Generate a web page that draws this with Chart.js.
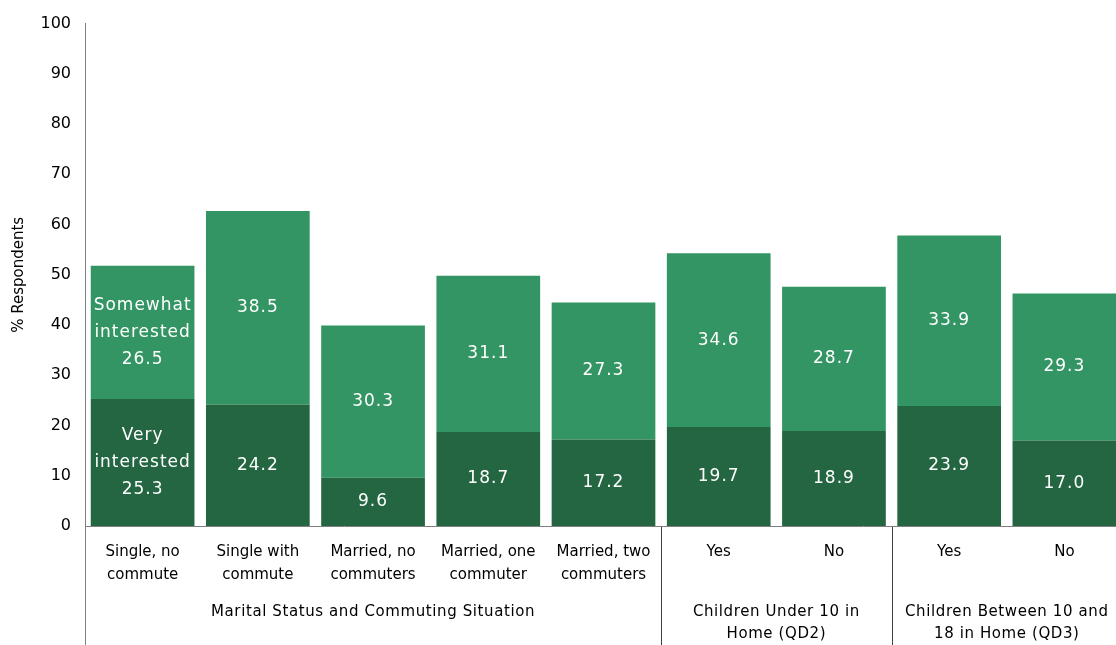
<!DOCTYPE html>
<html>
<head>
<meta charset="utf-8">
<script src="https://cdn.jsdelivr.net/npm/chart.js@4/dist/chart.umd.min.js"></script>
<style>
  html, body { margin: 0; padding: 0; background: #ffffff; overflow: hidden; }
  #wrap { width: 1122px; height: 645px; }
</style>
</head>
<body>
<div id="wrap"><canvas id="c" width="1122" height="645"></canvas></div>
<script>
// Category labels (two lines each)
const categories = [
  ['Single, no', 'commute'],
  ['Single with', 'commute'],
  ['Married, no', 'commuters'],
  ['Married, one', 'commuter'],
  ['Married, two', 'commuters'],
  ['Yes'],
  ['No'],
  ['Yes'],
  ['No']
];

// Category groups: label lines and number of categories in each group
const groupLabels = [
  ['Marital Status and Commuting Situation'],
  ['Children Under 10 in', 'Home (QD2)'],
  ['Children Between 10 and', '18 in Home (QD3)']
];
const groupSizes = [5, 2, 2];

// Series values (% respondents)
const veryInterested = [25.3, 24.2, 9.6, 18.7, 17.2, 19.7, 18.9, 23.9, 17.0];
const somewhatInterested = [26.5, 38.5, 30.3, 31.1, 27.3, 34.6, 28.7, 33.9, 29.3];

const seriesNames = [['Very', 'interested'], ['Somewhat', 'interested']];

const yTicks = [0, 10, 20, 30, 40, 50, 60, 70, 80, 90, 100];

const FONT = '"DejaVu Sans", "Noto Sans", sans-serif';
const AXIS_GRAY = '#7f7f7f';

// Values written inside each bar segment; the first column also carries the series name
const segmentLabels = {
  id: 'segmentLabels',
  afterDatasetsDraw(chart) {
    const ctx = chart.ctx;
    ctx.save();
    ctx.fillStyle = '#ffffff';
    ctx.font = '17px ' + FONT;
    ctx.letterSpacing = '1px';
    ctx.textAlign = 'center';
    ctx.textBaseline = 'middle';
    const lh = 27;
    chart.data.datasets.forEach((ds, di) => {
      const meta = chart.getDatasetMeta(di);
      meta.data.forEach((bar, i) => {
        const v = ds.data[i];
        const lines = i === 0 ? [...seriesNames[di], v.toFixed(1)] : [v.toFixed(1)];
        const cy = (bar.y + bar.base) / 2;
        const start = cy - (lines.length - 1) * lh / 2;
        lines.forEach((t, k) => ctx.fillText(t, bar.x, start + k * lh));
      });
    });
    ctx.restore();
  }
};

// Group separators below the axis and the group captions
const groupAxis = {
  id: 'groupAxis',
  afterDraw(chart) {
    const ctx = chart.ctx;
    const xs = chart.scales.x;
    const area = chart.chartArea;
    const H = chart.height;
    const half = (xs.getPixelForValue(1) - xs.getPixelForValue(0)) / 2;
    ctx.save();
    ctx.lineWidth = 1;
    // left axis continues down through the label area
    ctx.strokeStyle = AXIS_GRAY;
    ctx.beginPath();
    ctx.moveTo(Math.round(area.left) + 0.5, area.bottom);
    ctx.lineTo(Math.round(area.left) + 0.5, H);
    ctx.stroke();
    ctx.strokeStyle = '#404040';
    let idx = 0;
    ctx.fillStyle = '#000000';
    ctx.font = '15px ' + FONT;
    ctx.letterSpacing = '0.6px';
    ctx.textAlign = 'center';
    ctx.textBaseline = 'middle';
    groupSizes.forEach((n, g) => {
      const left = xs.getPixelForValue(idx) - half;
      const right = xs.getPixelForValue(idx + n - 1) + half;
      if (g > 0) {
        const x = Math.round(left) + 0.5;
        ctx.beginPath();
        ctx.moveTo(x, area.bottom + 1);
        ctx.lineTo(x, H);
        ctx.stroke();
      }
      const cx = (left + right) / 2;
      groupLabels[g].forEach((t, k) => ctx.fillText(t, cx, 612 + k * 22));
      idx += n;
    });
    ctx.restore();
  }
};

new Chart(document.getElementById('c'), {
  type: 'bar',
  data: {
    labels: categories,
    datasets: [
      { label: 'Very interested', data: veryInterested, backgroundColor: '#236641', borderWidth: 0 },
      { label: 'Somewhat interested', data: somewhatInterested, backgroundColor: '#329563', borderWidth: 0 }
    ]
  },
  options: {
    responsive: false,
    animation: false,
    devicePixelRatio: 1,
    layout: { padding: { top: 19, left: 0, right: 0, bottom: 0 } },
    plugins: { legend: { display: false }, tooltip: { enabled: false } },
    datasets: { bar: { categoryPercentage: 1.0, barPercentage: 0.9 } },
    scales: {
      x: {
        stacked: true,
        grid: { display: false, drawTicks: false },
        border: { display: true, color: AXIS_GRAY, width: 1 },
        ticks: {
          color: '#000000',
          font: { family: FONT, size: 15, lineHeight: 1.55 },
          padding: 14,
          maxRotation: 0,
          autoSkip: false
        },
        afterFit(scale) { scale.height = 119; }
      },
      y: {
        stacked: true,
        min: 0,
        max: 100,
        grid: { display: false, drawTicks: false },
        border: { display: true, color: AXIS_GRAY, width: 1 },
        afterBuildTicks(scale) { scale.ticks = yTicks.map(v => ({ value: v })); },
        ticks: {
          color: '#000000',
          font: { family: FONT, size: 16 },
          padding: 14
        },
        title: {
          display: true,
          text: '% Respondents',
          color: '#000000',
          font: { family: FONT, size: 15 },
          padding: { top: 10, bottom: 0 }
        },
        afterFit(scale) { scale.width = 85; }
      }
    }
  },
  plugins: [segmentLabels, groupAxis]
});
</script>
</body>
</html>
